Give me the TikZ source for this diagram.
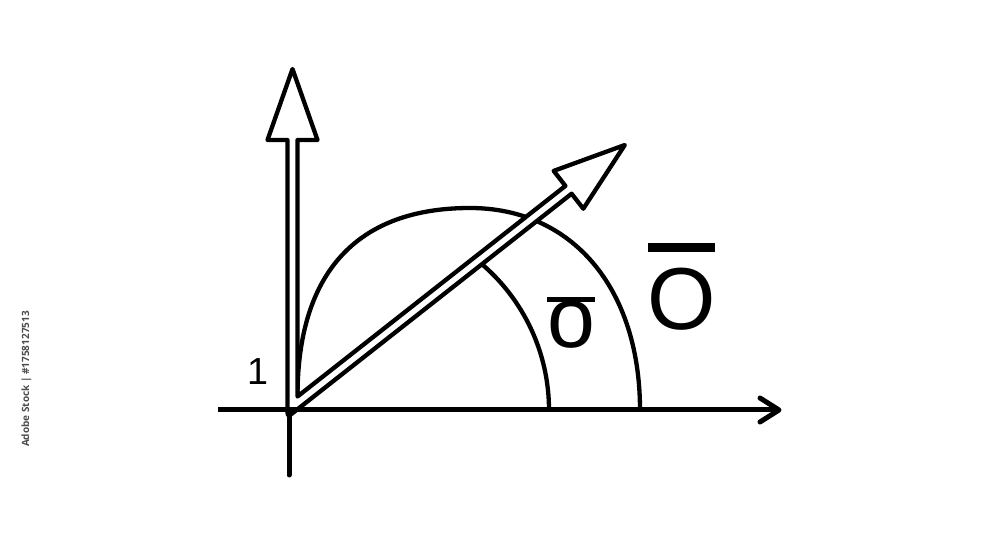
\documentclass[tikz,border=0pt]{standalone}
\usepackage{fontspec}
\setmainfont{Liberation Sans}
\newfontfamily\stockfont{Open Sans}

\begin{document}
\begin{tikzpicture}[x=1pt,y=1pt,
    axisline/.style={line width=5pt},
    arcline/.style={line width=4.3pt},
    hollowarrow/.style={line width=4.3pt, line join=round, fill=white},
    letter/.style={inner sep=0pt, font=\fontsize{86}{86}\selectfont}]
  \useasboundingbox (0,0) rectangle (1000,545);

  % Outer arc (drawn first, the arrows cover it)
  \draw[arcline] (297.5,148.5) .. controls (297.5,273.5) and (358,337) .. (470,337)
      .. controls (572,337) and (640,257) .. (640,135);

  % Inner arc
  \draw[arcline] (549,135) arc[start angle=0, end angle=50, radius=192];

  % Hollow arrows: vertical + diagonal in one outline
  \filldraw[hollowarrow] (292.5,476) -- (317.5,405) -- (297.5,405)
      -- (297.5,148.5) -- (565.4,359.1) -- (553.7,374.1) -- (624.8,400)
      -- (583.3,336.3) -- (571.6,351.3) -- (293,132.2)
      .. controls (287.5,127.9) .. (287.5,137) -- (287.5,405)
      -- (267.5,405) -- cycle;

  % Axes
  \draw[axisline] (218,135) -- (779,135);
  \draw[axisline, line cap=round, line join=round] (760,147) -- (779,135) -- (760,123);
  \draw[axisline, line cap=round] (289,135) -- (289,70);

  % Labels
  \node[letter] (sigmalabel) at (571.7,220) {o};
  \fill (547.3,243.3) rectangle (595,248.3);
  \node[letter, font=\fontsize{88}{88}\selectfont] (obarlabel) at (681.7,245.8) {O};
  \fill (648.3,293.3) rectangle (715,301.7);
  \node[inner sep=0pt, font=\fontsize{37.7}{38}\selectfont] (onelabel) at (257.5,173.5) {1};

  % Stock note along the left edge
  \node[rotate=90, inner sep=0pt, text=black!70, font=\stockfont\bfseries\fontsize{10}{11}\selectfont]
      (stocknote) at (26.5,166) {Adobe Stock | \#1758127513};
\end{tikzpicture}
\end{document}
